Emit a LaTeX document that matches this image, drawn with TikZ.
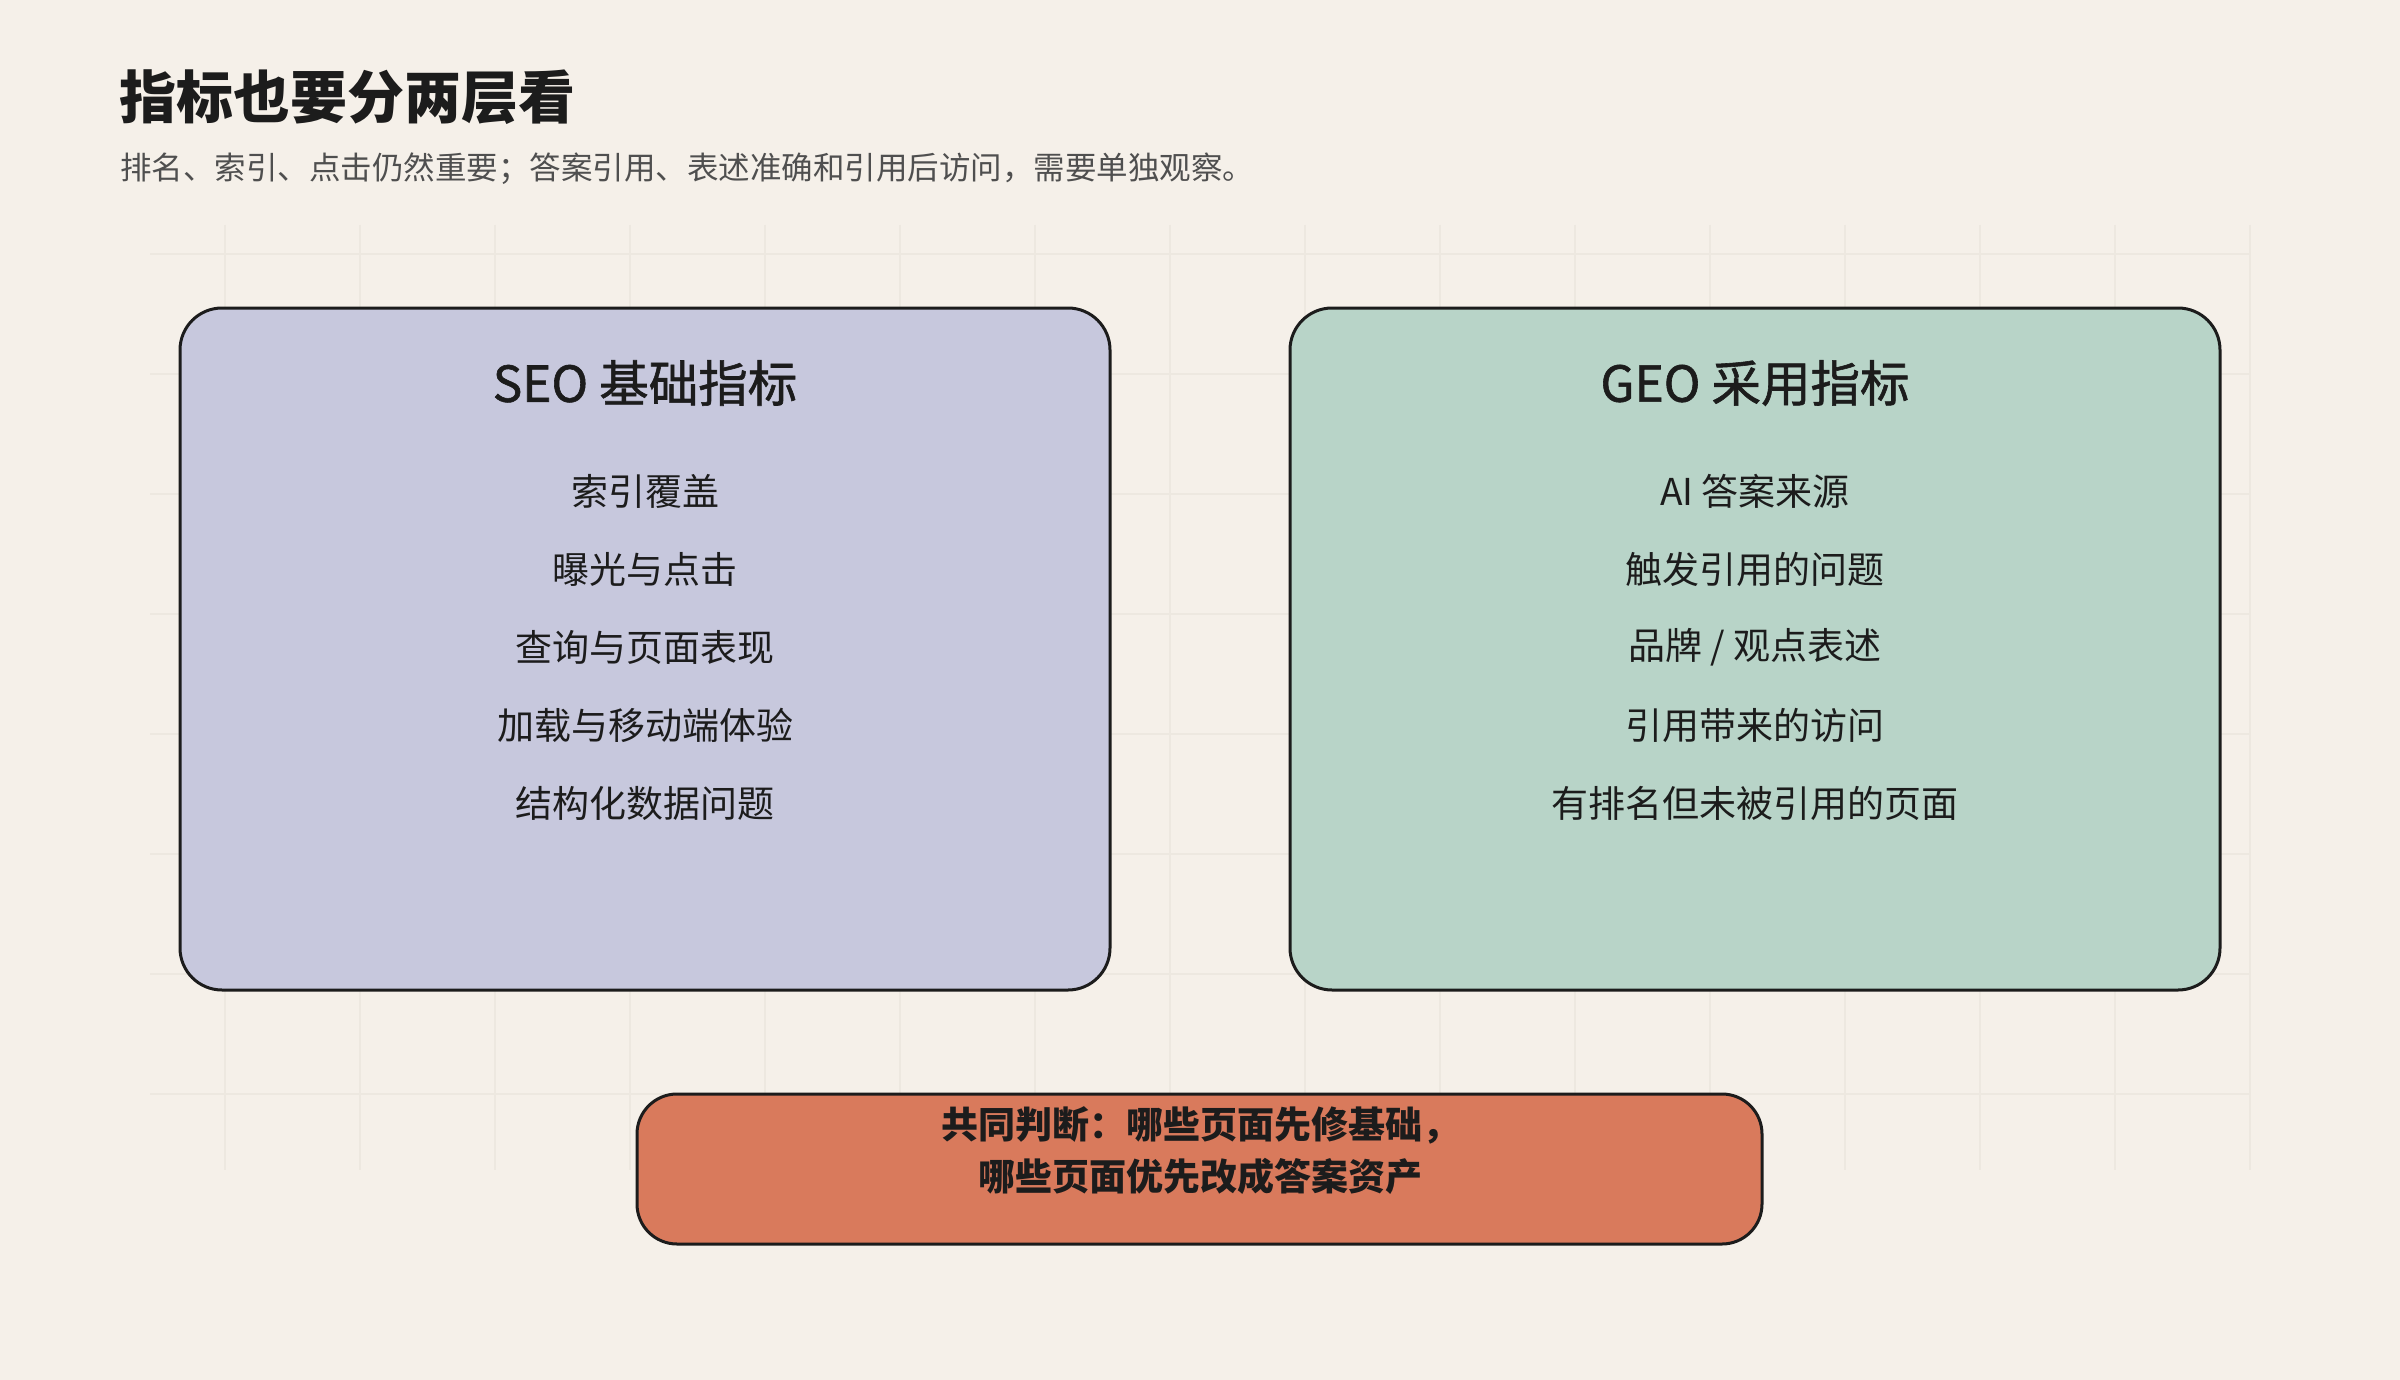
\documentclass[tikz,border=0pt]{standalone}
\usepackage{fontspec}
\setmainfont{Noto Sans CJK SC}
\newfontfamily\medfont{Noto Sans CJK SC}[FakeBold=1.2]
\definecolor{bg}{HTML}{F5F0E9}
\definecolor{gridc}{HTML}{EDE8E0}
\definecolor{ink}{HTML}{1C1C1C}
\definecolor{subc}{HTML}{4F4F4F}
\definecolor{seo}{HTML}{C7C8DD}
\definecolor{geo}{HTML}{B8D4C8}
\definecolor{joint}{HTML}{D97A5C}
\tikzset{
  panel/.style={draw=ink, line width=3pt, rounded corners=42pt},
  paneltitle/.style={font=\medfont\fontsize{49.5}{56}\selectfont, text=ink, inner sep=0pt},
  item/.style={font=\fontsize{37}{44}\selectfont, text=ink, inner sep=0pt},
  gridline/.style={draw=gridc, line width=2pt}
}
\begin{document}
\begin{tikzpicture}[x=1pt,y=-1pt]
\fill[bg] (0,0) rectangle (2400,1380);
\useasboundingbox (0,0) rectangle (2400,1380);
% grid
\foreach \k in {0,...,15} {
  \draw[gridline] (225+135*\k,225) -- (225+135*\k,1170);
}
\foreach \k in {0,...,7} {
  \draw[gridline] (150,254+120*\k) -- (2250,254+120*\k);
}
% title
\node[anchor=west, inner sep=0pt, text=ink, font=\bfseries\fontsize{57}{64}\selectfont] (title) at (119,97) {指标也要分两层看};
\node[anchor=west, inner sep=0pt, text=subc, font=\fontsize{31.5}{36}\selectfont] (sub) at (120,169) {排名、索引、点击仍然重要；答案引用、表述准确和引用后访问，需要单独观察。};
% panels
\draw[panel, fill=seo] (180,308) rectangle (1110,990);
\draw[panel, fill=geo] (1290,308) rectangle (2220,990);
\draw[panel, fill=joint, rounded corners=40pt] (637,1094) rectangle (1762,1244);
% SEO
\node[paneltitle] (seot) at (645,383) {SEO 基础指标};
\node[item] (s1) at (645,491) {索引覆盖};
\node[item] (s2) at (645,569) {曝光与点击};
\node[item] (s3) at (645,647) {查询与页面表现};
\node[item] (s4) at (645,725) {加载与移动端体验};
\node[item] (s5) at (645,803) {结构化数据问题};
% GEO
\node[paneltitle] (geot) at (1755,383) {GEO 采用指标};
\node[item] (g1) at (1755,491) {AI 答案来源};
\node[item] (g2) at (1755,569) {触发引用的问题};
\node[item] (g3) at (1755,647) {品牌 / 观点表述};
\node[item] (g4) at (1755,725) {引用带来的访问};
\node[item] (g5) at (1755,803) {有排名但未被引用的页面};
% joint
\node[inner sep=0pt, text=ink, font=\bfseries\fontsize{37}{52}\selectfont, align=center] (j) at (1200,1151) {共同判断：哪些页面先修基础，\\哪些页面优先改成答案资产};
\end{tikzpicture}
\end{document}
